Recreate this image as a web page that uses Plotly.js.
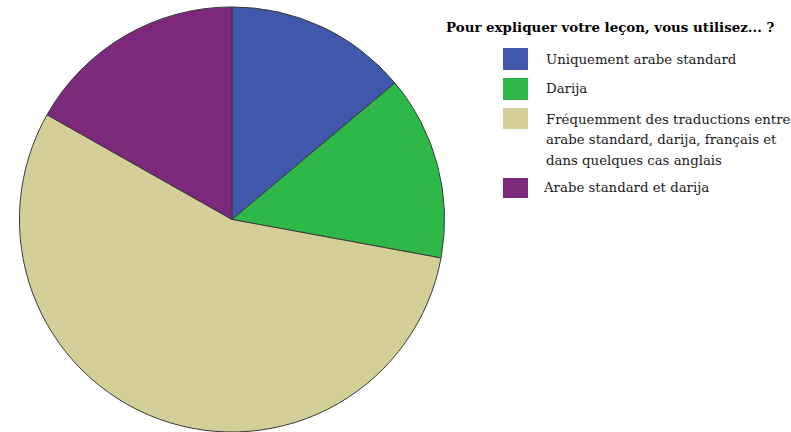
<!DOCTYPE html>
<html>
<head>
<meta charset="utf-8">
<script src="https://cdn.plot.ly/plotly-3.0.1.min.js"></script>
<style>html,body{margin:0;padding:0;background:#fff;}#chart{width:791px;height:432px;}</style>
</head>
<body>
<div id="chart"></div>
<script>
const chartTitle = "Pour expliquer votre leçon, vous utilisez... ?";
const categories = [
  "Uniquement arabe standard",
  "Darija",
  "Fréquemment des traductions entre arabe standard, darija, français et dans quelques cas anglais",
  "Arabe standard et darija"
];
const legendLines = [
  ["Uniquement arabe standard"],
  ["Darija"],
  ["Fréquemment des traductions entre", "arabe standard, darija, français et", "dans quelques cas anglais"],
  ["Arabe standard et darija"]
];
const percentages = [13.9, 14.0, 55.3, 16.8];
const sliceColors = ["#3f58ab", "#2fb84a", "#d4cf98", "#7c297c"];

const serifFont = "DejaVu Serif";

const trace = {
  type: "pie",
  labels: categories,
  values: percentages,
  sort: false,
  direction: "clockwise",
  rotation: 0,
  textinfo: "none",
  hoverinfo: "label+percent",
  marker: {colors: sliceColors, line: {color: "#3a3a3a", width: 1}},
  domain: {x: [0.0233, 0.5633], y: [0, 0.984]},
  showlegend: false
};

const H = 432, W = 791;
const legX0 = 503/W, legX1 = 528/W;
const boxTops = [48, 78, 108, 178];
const boxBottoms = [70, 100, 129, 198];
const firstLineCenters = [60, 89, 119, 188];
const lineStep = 20.5;
const shapes = [];
const annotations = [{
  text: "<b>" + chartTitle + "</b>",
  xref: "paper", yref: "paper", x: 444/W, y: 1 - 27/H,
  xanchor: "left", yanchor: "middle", showarrow: false,
  font: {family: serifFont, size: 13.4, color: "#000"}
}];
categories.forEach((c, i) => {
  shapes.push({
    type: "rect", xref: "paper", yref: "paper",
    x0: legX0, x1: legX1, y0: 1 - boxBottoms[i]/H, y1: 1 - boxTops[i]/H,
    fillcolor: sliceColors[i], line: {width: 0}
  });
  legendLines[i].forEach((ln, j) => {
    annotations.push({
      text: ln, xref: "paper", yref: "paper",
      x: (i === 3 ? 541 : 544)/W, y: 1 - (firstLineCenters[i] + j*lineStep)/H,
      xanchor: "left", yanchor: "middle", align: "left", showarrow: false,
      font: {family: serifFont, size: 13.3, color: "#1a1a1a"}
    });
  });
});

const layout = {
  width: W, height: H,
  margin: {l: 0, r: 0, t: 0, b: 0},
  paper_bgcolor: "#ffffff",
  plot_bgcolor: "#ffffff",
  showlegend: false,
  font: {family: serifFont},
  shapes: shapes,
  annotations: annotations
};
Plotly.newPlot("chart", [trace], layout, {displayModeBar: false, staticPlot: true});
</script>
</body>
</html>
